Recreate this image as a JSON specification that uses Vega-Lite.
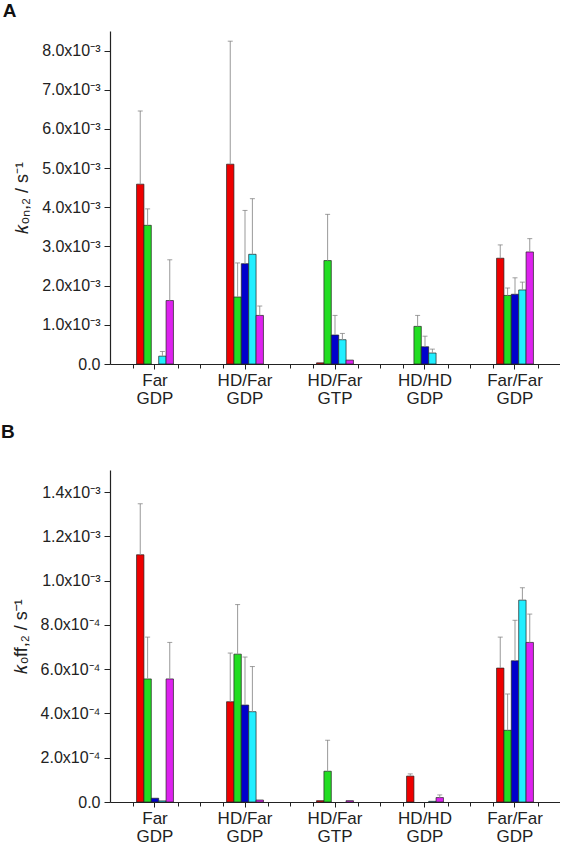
{
  "$schema": "https://vega.github.io/schema/vega-lite/v6.json",
  "background": "white",
  "padding": {"left": 1, "top": 2, "right": 0, "bottom": 0},
  "config": {
    "view": {"stroke": null},
    "font": "Liberation Sans",
    "axis": {"domainColor": "#222", "tickColor": "#222", "domainWidth": 1.2, "tickWidth": 1, "labelColor": "#222", "titleColor": "#222", "grid": false, "labelFont": "Liberation Sans", "titleFont": "Liberation Sans"},
    "title": {"font": "Liberation Sans", "fontWeight": "bold", "fontSize": 19, "anchor": "start", "frame": "bounds", "color": "#111"}
  },
  "datasets": {
    "A": [
      {"cat": "Far GDP", "s": "1", "v": 0.00459, "hi": 0.00646},
      {"cat": "Far GDP", "s": "2", "v": 0.00354, "hi": 0.00396},
      {"cat": "Far GDP", "s": "4", "v": 0.00020, "hi": 0.00032},
      {"cat": "Far GDP", "s": "5", "v": 0.00162, "hi": 0.00266},
      {"cat": "HD/Far GDP", "s": "1", "v": 0.00510, "hi": 0.00824},
      {"cat": "HD/Far GDP", "s": "2", "v": 0.00171, "hi": 0.00258},
      {"cat": "HD/Far GDP", "s": "3", "v": 0.00256, "hi": 0.00392},
      {"cat": "HD/Far GDP", "s": "4", "v": 0.00280, "hi": 0.00422},
      {"cat": "HD/Far GDP", "s": "5", "v": 0.00124, "hi": 0.00148},
      {"cat": "HD/Far GTP", "s": "1", "v": 0.00003, "hi": null},
      {"cat": "HD/Far GTP", "s": "2", "v": 0.00264, "hi": 0.00382},
      {"cat": "HD/Far GTP", "s": "3", "v": 0.00074, "hi": 0.00124},
      {"cat": "HD/Far GTP", "s": "4", "v": 0.00062, "hi": 0.00078},
      {"cat": "HD/Far GTP", "s": "5", "v": 0.00010, "hi": null},
      {"cat": "HD/HD GDP", "s": "2", "v": 0.00096, "hi": 0.00124},
      {"cat": "HD/HD GDP", "s": "3", "v": 0.00044, "hi": 0.00071},
      {"cat": "HD/HD GDP", "s": "4", "v": 0.00028, "hi": 0.00038},
      {"cat": "Far/Far GDP", "s": "1", "v": 0.00270, "hi": 0.00304},
      {"cat": "Far/Far GDP", "s": "2", "v": 0.00175, "hi": 0.00194},
      {"cat": "Far/Far GDP", "s": "3", "v": 0.00178, "hi": 0.00220},
      {"cat": "Far/Far GDP", "s": "4", "v": 0.00189, "hi": 0.00209},
      {"cat": "Far/Far GDP", "s": "5", "v": 0.00286, "hi": 0.00320}
    ],
    "B": [
      {"cat": "Far GDP", "s": "1", "v": 0.001117, "hi": 0.001347},
      {"cat": "Far GDP", "s": "2", "v": 0.000556, "hi": 0.000745},
      {"cat": "Far GDP", "s": "3", "v": 0.000017, "hi": null},
      {"cat": "Far GDP", "s": "4", "v": 0.000005, "hi": null},
      {"cat": "Far GDP", "s": "5", "v": 0.000556, "hi": 0.000721},
      {"cat": "HD/Far GDP", "s": "1", "v": 0.000453, "hi": 0.000673},
      {"cat": "HD/Far GDP", "s": "2", "v": 0.000668, "hi": 0.000892},
      {"cat": "HD/Far GDP", "s": "3", "v": 0.000438, "hi": 0.000655},
      {"cat": "HD/Far GDP", "s": "4", "v": 0.000408, "hi": 0.000612},
      {"cat": "HD/Far GDP", "s": "5", "v": 0.000009, "hi": null},
      {"cat": "HD/Far GTP", "s": "1", "v": 0.000006, "hi": null},
      {"cat": "HD/Far GTP", "s": "2", "v": 0.000139, "hi": 0.000279},
      {"cat": "HD/Far GTP", "s": "5", "v": 0.000006, "hi": null},
      {"cat": "HD/HD GDP", "s": "1", "v": 0.000117, "hi": 0.000127},
      {"cat": "HD/HD GDP", "s": "4", "v": 0.000003, "hi": null},
      {"cat": "HD/HD GDP", "s": "5", "v": 0.000020, "hi": 0.000032},
      {"cat": "Far/Far GDP", "s": "1", "v": 0.000605, "hi": 0.000745},
      {"cat": "Far/Far GDP", "s": "2", "v": 0.000324, "hi": 0.000488},
      {"cat": "Far/Far GDP", "s": "3", "v": 0.000638, "hi": 0.000821},
      {"cat": "Far/Far GDP", "s": "4", "v": 0.000912, "hi": 0.000968},
      {"cat": "Far/Far GDP", "s": "5", "v": 0.000721, "hi": 0.000849}
    ]
  },
  "spacing": 17,
  "vconcat": [
    {
      "width": 450,
      "height": 333,
      "title": {"text": "A", "offset": 10, "dx": -11},
      "data": {"name": "A"},
      "resolve": {"scale": {"x": "independent"}, "axis": {"x": "independent"}},
      "layer": [
        {
          "encoding": {
            "x": {"field": "cat", "type": "nominal", "sort": ["Far GDP", "HD/Far GDP", "HD/Far GTP", "HD/HD GDP", "Far/Far GDP"], "scale": {"paddingInner": 0.59, "paddingOuter": 0.295},
              "axis": {"title": null, "labelAngle": 0, "labelExpr": "split(datum.label, ' ')", "labelFontSize": 17, "labelLineHeight": 18, "tickSize": 5, "labelPadding": 3}},
            "xOffset": {"field": "s", "type": "nominal", "scale": {"domain": ["1", "2", "3", "4", "5"], "paddingInner": 0, "paddingOuter": 0}}
          },
          "layer": [
            {
              "mark": {"type": "bar", "stroke": "#222", "strokeWidth": 0.7},
              "encoding": {
                "y": {"field": "v", "type": "quantitative", "scale": {"domain": [0, 0.0085], "nice": false},
                  "axis": {"title": "𝑘ₒₙ,₂ / s⁻¹", "titleFontSize": 18, "titleFontWeight": "normal", "titlePadding": 10, "labelFontSize": 16, "labelPadding": 4,
                    "values": [0, 0.0005, 0.001, 0.0015, 0.002, 0.0025, 0.003, 0.0035, 0.004, 0.0045, 0.005, 0.0055, 0.006, 0.0065, 0.007, 0.0075, 0.008, 0.0085],
                    "labelExpr": "round(datum.value*2000) % 2 != 0 ? '' : (datum.value == 0 ? '0.0' : format(datum.value*1000, '.1f') + 'x10⁻³')",
                    "tickSize": {"condition": {"test": "round(datum.value*2000) % 2 == 0", "value": 6}, "value": 3}}},
                "color": {"field": "s", "type": "nominal", "scale": {"domain": ["1", "2", "3", "4", "5"], "range": ["#ee0000", "#22dd22", "#0000cc", "#22eeff", "#dd22ee"]}, "legend": null}
              }
            },
            {
              "transform": [{"filter": "datum.hi != null"}],
              "mark": {"type": "rule", "color": "#999999", "strokeWidth": 1},
              "encoding": {"y": {"field": "v", "type": "quantitative"}, "y2": {"field": "hi"}}
            },
            {
              "transform": [{"filter": "datum.hi != null"}],
              "mark": {"type": "tick", "color": "#777777", "size": 5, "thickness": 1, "orient": "horizontal"},
              "encoding": {"y": {"field": "hi", "type": "quantitative"}}
            }
          ]
        },
        {
          "mark": {"type": "rule", "opacity": 0},
          "encoding": {
            "x": {"datum": 1, "type": "quantitative", "scale": {"domain": [0.5, 5.5], "nice": false, "zero": false},
              "axis": {"orient": "bottom", "title": null, "labels": false, "domain": false, "tickSize": 4,
                "values": [0.75, 1.25, 1.5, 1.75, 2.25, 2.5, 2.75, 3.25, 3.5, 3.75, 4.25, 4.5, 4.75, 5.25]}}
          }
        }
      ]
    },
    {
      "width": 450,
      "height": 332,
      "title": {"text": "B", "offset": 28, "dx": -11},
      "data": {"name": "B"},
      "resolve": {"scale": {"x": "independent"}, "axis": {"x": "independent"}},
      "layer": [
        {
          "encoding": {
            "x": {"field": "cat", "type": "nominal", "sort": ["Far GDP", "HD/Far GDP", "HD/Far GTP", "HD/HD GDP", "Far/Far GDP"], "scale": {"paddingInner": 0.59, "paddingOuter": 0.295},
              "axis": {"title": null, "labelAngle": 0, "labelExpr": "split(datum.label, ' ')", "labelFontSize": 17, "labelLineHeight": 18, "tickSize": 5, "labelPadding": 3}},
            "xOffset": {"field": "s", "type": "nominal", "scale": {"domain": ["1", "2", "3", "4", "5"], "paddingInner": 0, "paddingOuter": 0}}
          },
          "layer": [
            {
              "mark": {"type": "bar", "stroke": "#222", "strokeWidth": 0.7},
              "encoding": {
                "y": {"field": "v", "type": "quantitative", "scale": {"domain": [0, 0.0015], "nice": false},
                  "axis": {"title": "𝑘ₒff,₂ / s⁻¹", "titleFontSize": 18, "titleFontWeight": "normal", "titlePadding": 10, "labelFontSize": 16, "labelPadding": 4,
                    "values": [0, 0.0001, 0.0002, 0.0003, 0.0004, 0.0005, 0.0006, 0.0007, 0.0008, 0.0009, 0.001, 0.0011, 0.0012, 0.0013, 0.0014, 0.0015],
                    "labelExpr": "round(datum.value*10000) % 2 != 0 ? '' : (datum.value == 0 ? '0.0' : (datum.value >= 0.00099 ? format(datum.value*1000, '.1f') + 'x10⁻³' : format(datum.value*10000, '.1f') + 'x10⁻⁴'))",
                    "tickSize": {"condition": {"test": "round(datum.value*10000) % 2 == 0", "value": 6}, "value": 3}}},
                "color": {"field": "s", "type": "nominal", "scale": {"domain": ["1", "2", "3", "4", "5"], "range": ["#ee0000", "#22dd22", "#0000cc", "#22eeff", "#dd22ee"]}, "legend": null}
              }
            },
            {
              "transform": [{"filter": "datum.hi != null"}],
              "mark": {"type": "rule", "color": "#999999", "strokeWidth": 1},
              "encoding": {"y": {"field": "v", "type": "quantitative"}, "y2": {"field": "hi"}}
            },
            {
              "transform": [{"filter": "datum.hi != null"}],
              "mark": {"type": "tick", "color": "#777777", "size": 5, "thickness": 1, "orient": "horizontal"},
              "encoding": {"y": {"field": "hi", "type": "quantitative"}}
            }
          ]
        },
        {
          "mark": {"type": "rule", "opacity": 0},
          "encoding": {
            "x": {"datum": 1, "type": "quantitative", "scale": {"domain": [0.5, 5.5], "nice": false, "zero": false},
              "axis": {"orient": "bottom", "title": null, "labels": false, "domain": false, "tickSize": 4,
                "values": [0.75, 1.25, 1.5, 1.75, 2.25, 2.5, 2.75, 3.25, 3.5, 3.75, 4.25, 4.5, 4.75, 5.25]}}
          }
        }
      ]
    }
  ]
}
